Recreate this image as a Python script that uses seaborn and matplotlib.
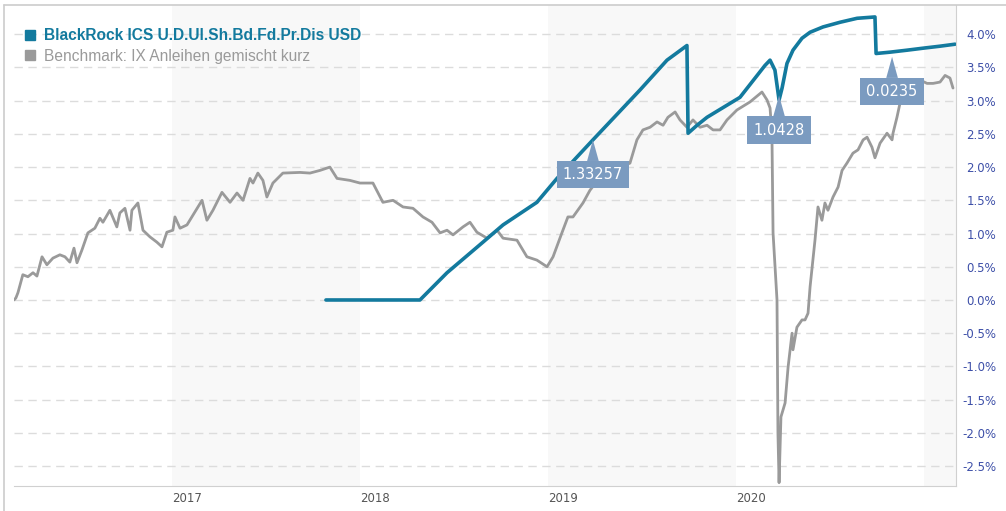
import matplotlib
matplotlib.use("Agg")
import matplotlib.pyplot as plt
from matplotlib.lines import Line2D
import seaborn as sns

# Zeitachse in Dezimaljahren, Werte in %
bench_x = [2016.160, 2016.170, 2016.181, 2016.207, 2016.234, 2016.261, 2016.282, 2016.309,
           2016.335, 2016.367, 2016.404, 2016.431, 2016.457, 2016.479, 2016.495, 2016.521,
           2016.553, 2016.590, 2016.617, 2016.633, 2016.670, 2016.707, 2016.723, 2016.750,
           2016.777, 2016.787, 2016.819, 2016.846, 2016.883, 2016.920, 2016.947, 2016.973,
           2017.005, 2017.016, 2017.043, 2017.080, 2017.106, 2017.160, 2017.186, 2017.218,
           2017.266, 2017.309, 2017.346, 2017.378, 2017.415, 2017.431, 2017.457, 2017.484,
           2017.505, 2017.537, 2017.590, 2017.681, 2017.734, 2017.787, 2017.840, 2017.878,
           2017.947, 2018.000, 2018.069, 2018.122, 2018.176, 2018.229, 2018.282, 2018.335,
           2018.383, 2018.426, 2018.463, 2018.495, 2018.548, 2018.585, 2018.622, 2018.676,
           2018.729, 2018.761, 2018.835, 2018.888, 2018.941, 2018.995, 2019.027, 2019.074,
           2019.106, 2019.133, 2019.186, 2019.223, 2019.277, 2019.346, 2019.436, 2019.473,
           2019.505, 2019.543, 2019.580, 2019.612, 2019.638, 2019.676, 2019.702, 2019.739,
           2019.771, 2019.809, 2019.846, 2019.878, 2019.915, 2019.952, 2020.005, 2020.074,
           2020.138, 2020.165, 2020.181, 2020.191, 2020.197, 2020.218, 2020.223, 2020.229,
           2020.239, 2020.261, 2020.277, 2020.298, 2020.303, 2020.324, 2020.351, 2020.367,
           2020.383, 2020.394, 2020.420, 2020.436, 2020.457, 2020.473, 2020.489, 2020.516,
           2020.543, 2020.564, 2020.590, 2020.622, 2020.649, 2020.676, 2020.697, 2020.723,
           2020.739, 2020.766, 2020.803, 2020.830, 2020.835, 2020.856, 2020.872, 2020.910,
           2020.941, 2020.979, 2021.016, 2021.048, 2021.085, 2021.112, 2021.138, 2021.154]
bench_y = [0.00, 0.03, 0.11, 0.38, 0.35, 0.41, 0.36, 0.65,
           0.53, 0.63, 0.68, 0.65, 0.57, 0.78, 0.56, 0.75,
           1.01, 1.08, 1.23, 1.17, 1.35, 1.10, 1.31, 1.38,
           1.05, 1.35, 1.46, 1.05, 0.95, 0.87, 0.80, 1.02,
           1.05, 1.25, 1.08, 1.13, 1.25, 1.50, 1.20, 1.35,
           1.62, 1.47, 1.61, 1.50, 1.83, 1.76, 1.91, 1.80,
           1.55, 1.76, 1.91, 1.92, 1.91, 1.95, 2.00, 1.83,
           1.80, 1.76, 1.76, 1.47, 1.50, 1.40, 1.38, 1.25,
           1.17, 1.01, 1.05, 0.98, 1.10, 1.17, 1.02, 0.93,
           1.05, 0.93, 0.90, 0.65, 0.60, 0.50, 0.65, 1.01,
           1.25, 1.25, 1.46, 1.65, 1.85, 1.95, 2.06, 2.41,
           2.56, 2.60, 2.68, 2.63, 2.75, 2.83, 2.71, 2.60,
           2.71, 2.60, 2.63, 2.56, 2.56, 2.71, 2.86, 2.98,
           3.13, 3.01, 2.89, 2.51, 1.01, 0.00, -2.00, -2.75,
           -1.76, -1.55, -1.01, -0.50, -0.75, -0.41, -0.30, -0.30,
           -0.20, 0.20, 0.90, 1.40, 1.20, 1.46, 1.35, 1.55,
           1.70, 1.95, 2.06, 2.21, 2.26, 2.41, 2.45, 2.30,
           2.14, 2.36, 2.51, 2.41, 2.51, 2.75, 2.96, 3.20,
           3.16, 3.31, 3.26, 3.26, 3.28, 3.38, 3.34, 3.19]

fund_x = [2017.819, 2018.319, 2018.463, 2018.654, 2018.761, 2018.941, 2019.048, 2019.239,
          2019.489, 2019.633, 2019.739, 2019.745, 2019.793, 2019.846, 2020.021, 2020.154,
          2020.181, 2020.207, 2020.229, 2020.245, 2020.271, 2020.303, 2020.351, 2020.394,
          2020.463, 2020.553, 2020.644, 2020.739, 2020.745, 2020.819, 2020.910, 2020.995,
          2021.085, 2021.165]
fund_y = [0.00, 0.00, 0.41, 0.87, 1.13, 1.47, 1.83, 2.41,
          3.16, 3.61, 3.83, 2.51, 2.63, 2.75, 3.05, 3.53,
          3.61, 3.46, 3.01, 3.19, 3.56, 3.76, 3.94, 4.03,
          4.11, 4.18, 4.24, 4.26, 3.71, 3.73, 3.76, 3.79,
          3.82, 3.85]

# Ausschuettungen
div_labels = ["1.33257", "1.0428", "0.0235"]
div_x = [2019.239, 2020.229, 2020.830]
div_y = [2.41, 3.08, 3.66]

years = [2017, 2018, 2019, 2020]
y_ticks = [4.0, 3.5, 3.0, 2.5, 2.0, 1.5, 1.0, 0.5, 0.0, -0.5, -1.0, -1.5, -2.0, -2.5]

fund_name = "BlackRock ICS U.D.Ul.Sh.Bd.Fd.Pr.Dis USD"
bench_name = "Benchmark: IX Anleihen gemischt kurz"

BLUE = "#137a9e"
GREY = "#9a9a9a"
BOX = "#7b9bc0"

sns.set_style("white")
plt.rcParams["font.family"] = ["DejaVu Sans"]

fig = plt.figure(figsize=(10.06, 5.11), dpi=100)
ax = fig.add_axes([14 / 1006, 25 / 511, 942 / 1006, 481 / 511])

# Jahresbaender
for y0, y1 in [(2017, 2018), (2019, 2020), (2021, 2022)]:
    ax.axvspan(y0, y1, color="#f8f8f8", lw=0, zorder=0)

for t in y_ticks:
    ax.axhline(t, color="#dcdcdc", lw=1, ls=(0, (6, 4)), zorder=1)

sns.lineplot(x=bench_x, y=bench_y, color=GREY, lw=2, ax=ax, sort=False, zorder=3)
sns.lineplot(x=fund_x, y=fund_y, color=BLUE, lw=2.6, ax=ax, sort=False, zorder=4)

for lab, x, y in zip(div_labels, div_x, div_y):
    ax.annotate(lab, xy=(x, y), xytext=(0, -25), textcoords="offset points",
                ha="center", va="center", color="white", fontsize=10.5, zorder=6,
                bbox=dict(boxstyle="square,pad=0.42", fc=BOX, ec="none"),
                arrowprops=dict(arrowstyle="wedge,tail_width=0.8,shrink_factor=0.5",
                                fc=BOX, ec="none", shrinkA=0, shrinkB=0))

ax.set_xlim(2016.160, 2021.170)
ax.set_ylim(-2.80, 4.44)

ax.set_xticks(years)
ax.set_xticklabels([str(y) for y in years], ha="left", color="#555555", fontsize=8.5)
ax.yaxis.tick_right()
ax.set_yticks(y_ticks)
ax.set_yticklabels([f"{t:.1f}%" for t in y_ticks], color="#3d4fa8", fontsize=8.5, ha="right")
ax.tick_params(axis="y", length=0, pad=29)
ax.tick_params(axis="x", length=0, pad=4)

for s in ["left", "top"]:
    ax.spines[s].set_visible(False)
ax.spines["right"].set_color("#d0d0d0")
ax.spines["bottom"].set_color("#d0d0d0")

handles = [Line2D([], [], marker="s", ls="none", color=BLUE, markersize=6.5),
           Line2D([], [], marker="s", ls="none", color=GREY, markersize=6.5)]
leg = ax.legend(handles, [fund_name, bench_name], loc="upper left",
                bbox_to_anchor=(0.004, 0.968), frameon=False,
                handlelength=0.6, handletextpad=0.6, labelspacing=0.35, borderpad=0,
                prop={"family": "Liberation Sans", "size": 11.2})
leg.get_texts()[0].set_color(BLUE)
leg.get_texts()[0].set_fontweight("bold")
leg.get_texts()[1].set_color(GREY)
leg.set_zorder(7)

# Rahmen
fig.add_artist(Line2D([4 / 1006, 4 / 1006], [0, 506 / 511], color="#cccccc", lw=1.2))
fig.add_artist(Line2D([4 / 1006, 1], [506 / 511, 506 / 511], color="#cccccc", lw=1.2))

fig.savefig("out.png", dpi=100)
